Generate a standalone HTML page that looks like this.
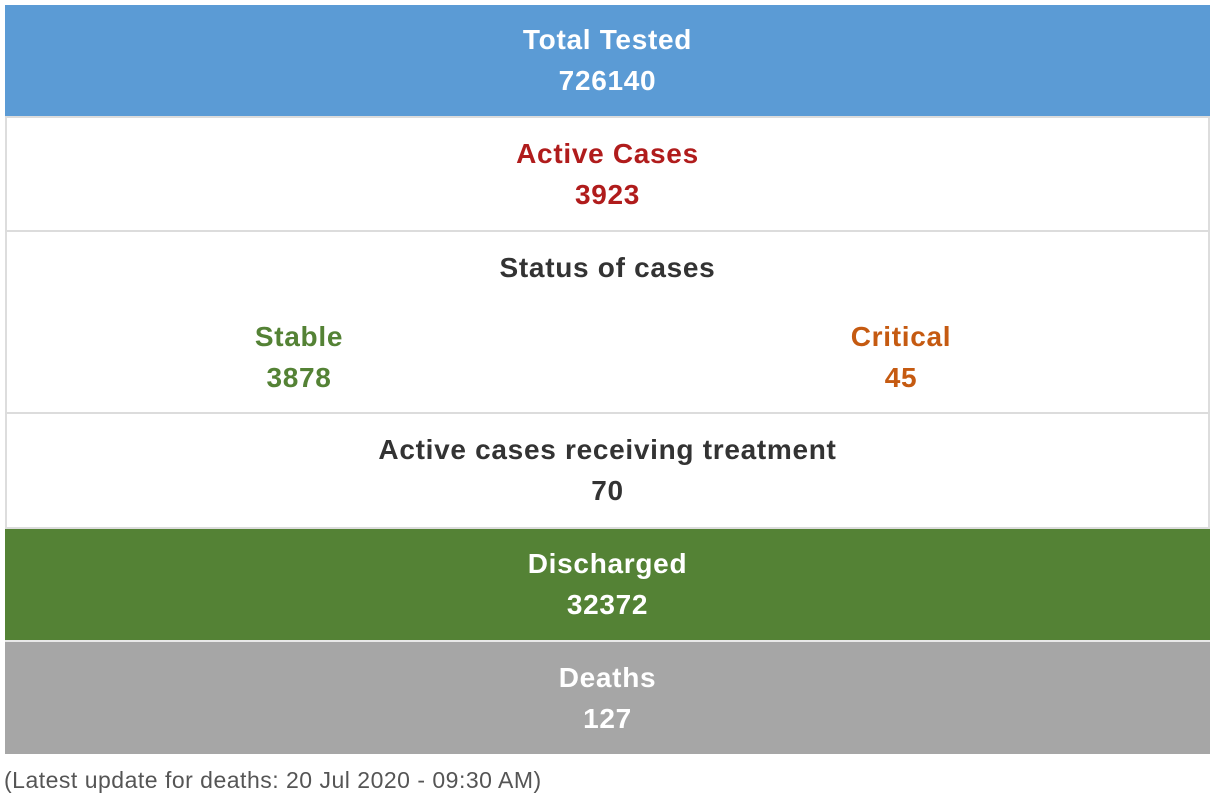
<!DOCTYPE html>
<html><head><meta charset="utf-8"><style>
body{margin:0;width:1214px;height:800px;background:#fff;font-family:"Liberation Sans",Arial,sans-serif;position:relative;overflow:hidden}
.row{position:absolute;left:5px;width:1205px;box-sizing:border-box;border-left:2px solid #ddd;border-right:2px solid #ddd;}
.t{position:absolute;left:0;width:100%;text-align:center;font-weight:bold;font-size:28px;letter-spacing:0.7px;line-height:30px}
.sep{position:absolute;left:5px;width:1205px;height:2px;background:#dcdcdc}
</style></head><body>
<div class="row" style="top:5px;height:111px;background:#5b9bd5;border-color:#5b9bd5">
 <div class="t" style="top:20px;color:#fff">Total Tested</div>
 <div class="t" style="top:61px;color:#fff">726140</div>
</div>
<div class="sep" style="top:116px"></div>
<div class="row" style="top:118px;height:112px">
 <div class="t" style="top:21px;color:#b01c1c">Active Cases</div>
 <div class="t" style="top:62px;color:#b01c1c">3923</div>
</div>
<div class="sep" style="top:230px"></div>
<div class="row" style="top:232px;height:180px">
 <div class="t" style="top:21px;color:#333">Status of cases</div>
 <div class="t" style="top:90px;left:192px;width:200px;color:#548235">Stable</div>
 <div class="t" style="top:131px;left:192px;width:200px;color:#548235">3878</div>
 <div class="t" style="top:90px;left:794px;width:200px;color:#c55a11">Critical</div>
 <div class="t" style="top:131px;left:794px;width:200px;color:#c55a11">45</div>
</div>
<div class="sep" style="top:412px"></div>
<div class="row" style="top:414px;height:113px">
 <div class="t" style="top:21px;color:#333">Active cases receiving treatment</div>
 <div class="t" style="top:62px;color:#333">70</div>
</div>
<div class="sep" style="top:527px"></div>
<div class="row" style="top:529px;height:111px;background:#548235;border-color:#548235">
 <div class="t" style="top:20px;color:#fff">Discharged</div>
 <div class="t" style="top:61px;color:#fff">32372</div>
</div>
<div class="sep" style="top:640px;background:#e8e8e8"></div>
<div class="row" style="top:642px;height:112px;background:#a6a6a6;border-color:#a6a6a6">
 <div class="t" style="top:21px;color:#fff">Deaths</div>
 <div class="t" style="top:62px;color:#fff">127</div>
</div>
<div style="position:absolute;left:4px;top:767px;font-size:23px;letter-spacing:0.5px;color:#555;line-height:26px">(Latest update for deaths: 20 Jul 2020 - 09:30 AM)</div>
</body></html>
